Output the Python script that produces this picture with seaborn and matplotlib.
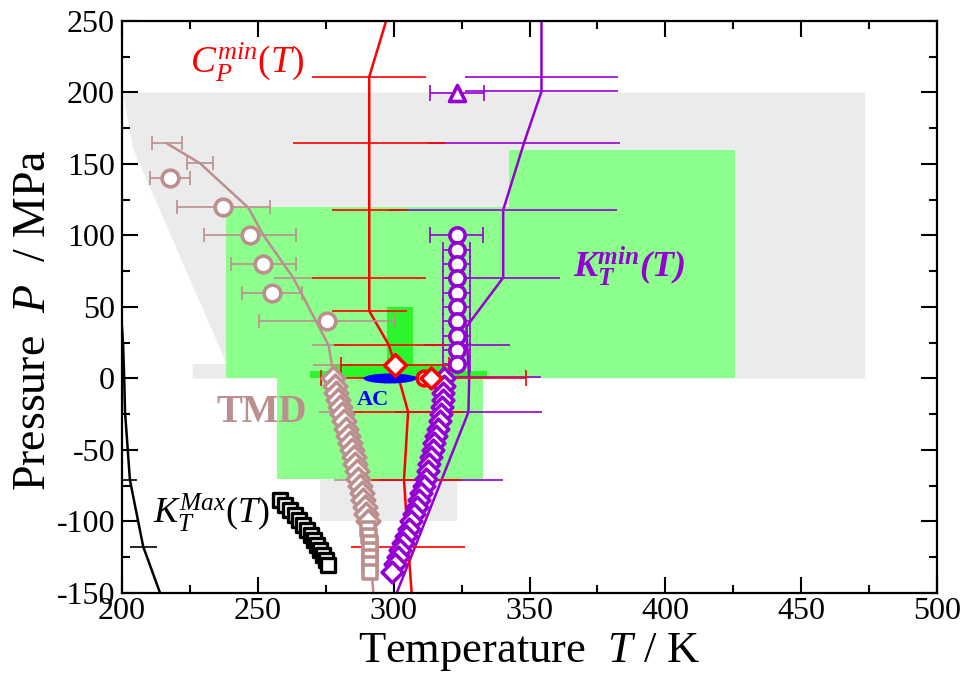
import numpy as np
import pandas as pd
import matplotlib
matplotlib.use("Agg")
import matplotlib.pyplot as plt
import seaborn as sns
from matplotlib.patches import Ellipse, Polygon

sns.set_style("ticks")
plt.rcParams['font.family'] = ['Liberation Serif', 'DejaVu Serif']
plt.rcParams['mathtext.fontset'] = 'custom'
plt.rcParams['mathtext.rm'] = 'Liberation Serif'
plt.rcParams['mathtext.it'] = 'Liberation Serif:italic'
plt.rcParams['mathtext.bf'] = 'Liberation Serif:italic:bold'
plt.rcParams['axes.unicode_minus'] = False
plt.rcParams['text.color'] = 'black'
plt.rcParams['axes.labelcolor'] = 'black'

RED = '#ff0000'
VIOLET = '#9400d3'
BROWN = '#bc8f8f'
BLUE = '#0000ff'
BLACK = '#000000'
GRAY = '#ebebeb'
GREEN_LIGHT = '#8cff8c'
GREEN_BRIGHT = '#2cf52c'

# ---------------- data ----------------
# shaded regions (T in K, P in MPa)
gray1_T = [200.4, 473.5, 473.5, 226.0, 226.0, 238.6, 204.0]
gray1_P = [200, 200, 0, 0, 10, 10, 161]
gray2_T = [273.0, 323.3, 323.3, 273.0]
gray2_P = [-100, -100, -70, -70]
green1_T = [238.3, 342.4, 342.4, 238.3]
green1_P = [0, 0, 120, 120]
green2_T = [342.4, 425.6, 425.6, 342.4]
green2_P = [0, 0, 160, 160]
green3_T = [257.0, 333.0, 333.0, 257.0]
green3_P = [-70, -70, 0, 0]
bright1_T = [297.5, 307.1, 307.1, 297.5]
bright1_P = [0, 0, 50, 50]
bright2_T = [277.7, 320.2, 320.2, 277.7]
bright2_P = [0, 0, 10, 10]
bright3_T = [269.2, 334.3, 334.3, 269.2]
bright3_P = [0, 0, 5, 5]

# AC ellipse
ac_T, ac_P, ac_w, ac_h = 298.6, 0.0, 19.5, 7.0

# C_P^min(T) line (red)
cp_T = [298.8, 291.0, 291.0, 291.0, 291.0, 291.0, 298.2, 300.5, 305.3, 303.8, 305.4, 306.6]
cp_P = [260, 211, 165, 118, 70.5, 47.2, 23.4, 9.4, -23.2, -71, -117.6, -150]
cpbar_T = [291.0, 291.0, 291.0, 291.0, 291.0, 298.5, 305.3, 303.8, 305.4]
cpbar_P = [211, 165, 118, 70.5, 47.2, 23.4, -23.2, -71, -117.6]
cpbar_err = [20.9, 28.0, 13.8, 21.0, 13.8, 20.6, 20.3, 21.5, 21.0]
cpmark_T = [300.5]
cpmark_P = [9.4]
cpmark_err = [20.0]
ac_bar_T = [311.0]
ac_bar_P = [0.2]
ac_bar_err = [37.6]
red_circ_T = [311.0]
red_circ_P = [0.2]
red_dia_T = [313.7]
red_dia_P = [0.0]

# K_T^min(T) line (violet)
kt_T = [354.4, 354.4, 354.4, 348.0, 340.3, 340.3, 326.8, 327.0, 327.8, 327.5, 317.6, 307.9, 301.1]
kt_P = [260, 211, 200.7, 165, 117.8, 70.5, 36.2, 23.4, 1.0, -23.6, -71, -117.6, -150]
ktbar_T = [354.4, 354.4, 348.0, 340.3, 340.3, 327.0, 327.8, 327.5, 317.6]
ktbar_P = [211, 200.7, 165, 117.8, 70.5, 23.4, 1.0, -23.6, -71]
ktbar_err = [28.0, 28.0, 35.4, 42.0, 21.0, 15.8, 26.4, 27.0, 22.7]
kt_circ_T = [323.2, 323.2, 323.2, 323.2, 323.2, 323.2, 323.2, 323.2, 323.2, 323.2]
kt_circ_P = [100, 90, 80, 70, 60, 50, 40, 30, 20, 10]
kt_circ_err = [9.8, 4.9, 4.9, 4.9, 4.9, 4.9, 4.9, 4.9, 4.9, 4.9]
kt_tri_T = [323.3]
kt_tri_P = [199.7]
kt_tri_err = [9.8]
kt_dia_P = [0, -5, -10, -15, -20, -25, -30, -35, -40, -45, -50, -55, -60, -65,
            -70, -75, -80, -85, -90, -95, -100, -105, -110, -115, -120, -125, -130, -135]
kt_dia_T = [318.6, 318.4, 318.2, 318.0, 317.8, 317.5, 316.9, 316.3, 315.6, 315.0, 314.4, 313.7,
            313.1, 312.5, 311.9, 311.0, 310.2, 309.3, 308.4, 307.4, 306.4, 305.5, 304.4, 303.4,
            302.4, 301.6, 300.4, 299.3]

# TMD (brown)
tmd_T = [216.4, 228.7, 246.5, 252.0, 263.0, 276.0, 277.8, 280.6, 287.3, 291.2, 292.5]
tmd_P = [164.5, 150.5, 119.4, 100.3, 70.5, 23.4, 3.8, -23.2, -71, -117.6, -150]
tmdcap_T = [216.4, 228.7]
tmdcap_P = [164.5, 150.5]
tmdcap_err = [5.5, 4.7]
tmdbar_T = [263.0, 276.0, 277.5, 280.6, 287.3]
tmdbar_P = [70.5, 23.4, 9.4, -23.2, -71]
tmdbar_err = [7.0, 6.0, 7.3, 8.0, 9.2]
tmd_circ_T = [217.7, 237.3, 247.1, 252.0, 255.1, 275.3]
tmd_circ_P = [140, 120, 100, 80, 60, 40]
tmd_circ_err = [7.5, 17.0, 17.0, 12.0, 11.0, 25.0]
tmd_dia_P = [0, -5, -10, -15, -20, -25, -30, -35, -40, -45, -50, -55, -60, -65,
             -70, -75, -80, -85, -90, -95, -100]
tmd_dia_T = [277.8, 278.3, 278.8, 279.4, 280.1, 280.9, 281.7, 282.5, 283.3, 284.0, 284.7,
             285.3, 285.8, 286.4, 287.0, 287.6, 288.2, 288.8, 289.4, 289.9, 290.4]
tmd_sq_P = [-105, -110, -115, -120, -125, -130, -135]
tmd_sq_T = [290.7, 290.9, 291.1, 291.2, 291.3, 291.3, 291.4]

# K_T^Max(T) (black)
ktmax_T = [199.6, 200.4, 200.8, 201.1, 202.9, 207.8, 214.0]
ktmax_P = [47, 23.4, 0, -23.2, -71, -117.6, -150]
ktmaxbar_T = [202.9, 207.8]
ktmaxbar_P = [-71, -117.6]
ktmaxbar_err = [2.5, 5.0]
ktmax_sq_P = [-85, -88.5, -92, -95.5, -99, -102.5, -106, -109.5, -113, -116.5, -120, -123.5, -127, -130.5]
ktmax_sq_T = [258.0, 259.9, 261.7, 263.5, 265.0, 266.5, 268.0, 269.4, 270.7, 271.9, 273.0, 274.0, 274.9, 275.7]

x_ticks = [200, 250, 300, 350, 400, 450, 500]
y_ticks = [-150, -100, -50, 0, 50, 100, 150, 200, 250]

# ---------------- figure ----------------
fig = plt.figure(figsize=(9.67, 6.75), dpi=100)
ax = fig.add_axes([0.1262, 0.1215, 0.8428, 0.8474])
ax.set_xlim(200, 500)
ax.set_ylim(-150, 250)


def region(T, P, color, z):
    ax.add_patch(Polygon(np.column_stack([T, P]), closed=True, facecolor=color,
                         edgecolor='none', zorder=z))


region(gray1_T, gray1_P, GRAY, 0.5)
region(gray2_T, gray2_P, GRAY, 0.5)
region(green1_T, green1_P, GREEN_LIGHT, 0.6)
region(green2_T, green2_P, GREEN_LIGHT, 0.6)
region(green3_T, green3_P, GREEN_LIGHT, 0.6)
region(bright1_T, bright1_P, GREEN_BRIGHT, 0.7)
region(bright2_T, bright2_P, GREEN_BRIGHT, 0.7)
region(bright3_T, bright3_P, GREEN_BRIGHT, 0.7)


def line(T, P, color, lw=1.8, z=2):
    sns.lineplot(x=T, y=P, sort=False, estimator=None, color=color, lw=lw, ax=ax, zorder=z)


def bars(T, P, err, color, cap=0, lw=1.2, z=2.2):
    ax.errorbar(T, P, xerr=err, fmt='none', ecolor=color, elinewidth=lw,
                capsize=cap, capthick=lw, zorder=z)


def marks(T, P, marker, size, color, lw=2.4, z=4):
    sns.scatterplot(x=T, y=P, marker=marker, s=size ** 2, color='white',
                    edgecolor=color, linewidth=lw, ax=ax, zorder=z, legend=False)


# black K_T^Max
line(ktmax_T, ktmax_P, BLACK)
bars(ktmaxbar_T, ktmaxbar_P, ktmaxbar_err, BLACK)
marks(ktmax_sq_T, ktmax_sq_P, 's', 9.5, BLACK, lw=2.4, z=4)

# brown TMD
line(tmd_T, tmd_P, BROWN)
bars(tmdcap_T, tmdcap_P, tmdcap_err, BROWN, cap=5)
bars(tmdbar_T, tmdbar_P, tmdbar_err, BROWN)
bars(tmd_circ_T, tmd_circ_P, tmd_circ_err, BROWN, cap=5)
marks(tmd_circ_T, tmd_circ_P, 'o', 12.0, BROWN, lw=2.6, z=4)
marks(tmd_dia_T, tmd_dia_P, 'D', 11.5, BROWN, lw=2.6, z=4)
marks(tmd_sq_T, tmd_sq_P, 's', 10.0, BROWN, lw=2.6, z=4)

# violet K_T^min
line(kt_T, kt_P, VIOLET)
bars(ktbar_T, ktbar_P, ktbar_err, VIOLET)
bars(kt_circ_T, kt_circ_P, kt_circ_err, VIOLET, cap=5.5)
bars(kt_tri_T, kt_tri_P, kt_tri_err, VIOLET, cap=5.5)
marks(kt_circ_T, kt_circ_P, 'o', 11.0, VIOLET, lw=2.6, z=4.1)
marks(kt_tri_T, kt_tri_P, '^', 11.5, VIOLET, lw=2.6, z=4.1)
marks(kt_dia_T, kt_dia_P, 'D', 10.5, VIOLET, lw=2.6, z=4.1)

# red C_P^min
line(cp_T, cp_P, RED, z=2.1)
bars(cpbar_T, cpbar_P, cpbar_err, RED, z=2.3)
bars(cpmark_T, cpmark_P, cpmark_err, RED, cap=5.5, z=2.3)
bars(ac_bar_T, ac_bar_P, ac_bar_err, RED, cap=5.5, z=2.3)

# AC ellipse
ax.add_patch(Ellipse((ac_T, ac_P), ac_w, ac_h, facecolor=BLUE, edgecolor='none', zorder=3))

marks(cpmark_T, cpmark_P, 'D', 11.0, RED, lw=2.6, z=4.5)
marks(red_circ_T, red_circ_P, 'o', 10.5, RED, lw=2.6, z=4.5)
marks(red_dia_T, red_dia_P, 'D', 10.5, RED, lw=2.6, z=4.6)

# labels inside plot
ax.text(225.0, 213.4, r'$C_P^{min}(T)$', color=RED, fontsize=27, ha='left', va='baseline', zorder=6)
ax.text(366.1, 71.2, r'$\mathbf{K_T^{min}(T)}$', color=VIOLET, fontsize=26, ha='left', va='baseline', zorder=6)
ax.text(211.5, -101.3, r'$K_T^{Max}(T)$', color=BLACK, fontsize=26, ha='left', va='baseline', zorder=6)
ax.text(234.9, -30.2, 'TMD', color=BROWN, fontsize=28, fontweight='bold', ha='left', va='baseline', zorder=6)
ax.text(286.4, -18.5, 'AC', color=BLUE, fontsize=16, fontweight='bold', ha='left', va='baseline', zorder=6)

# axes styling
ax.set_xticks(x_ticks)
ax.set_yticks(y_ticks)
ax.set_xticks(np.arange(225, 500, 50), minor=True)
ax.set_yticks(np.arange(-125, 250, 50), minor=True)
ax.tick_params(which='both', direction='in', top=True, right=True, width=1.5, colors='black')
ax.tick_params(which='major', length=11.5, labelsize=23)
ax.tick_params(axis='x', which='major', pad=3)
ax.tick_params(axis='y', which='major', pad=5)
ax.tick_params(which='minor', length=6)
for s in ax.spines.values():
    s.set_linewidth(1.6)
    s.set_color('black')
ax.set_xlabel(r'Temperature  $T$ / K', fontsize=32, color='black')
ax.set_ylabel(r'Pressure  $P$  / MPa', fontsize=33, color='black')
ax.xaxis.set_label_coords(0.5, -0.066)
ax.yaxis.set_label_coords(-0.082, 0.477)

fig.savefig('out.png', dpi=100, facecolor='white')
